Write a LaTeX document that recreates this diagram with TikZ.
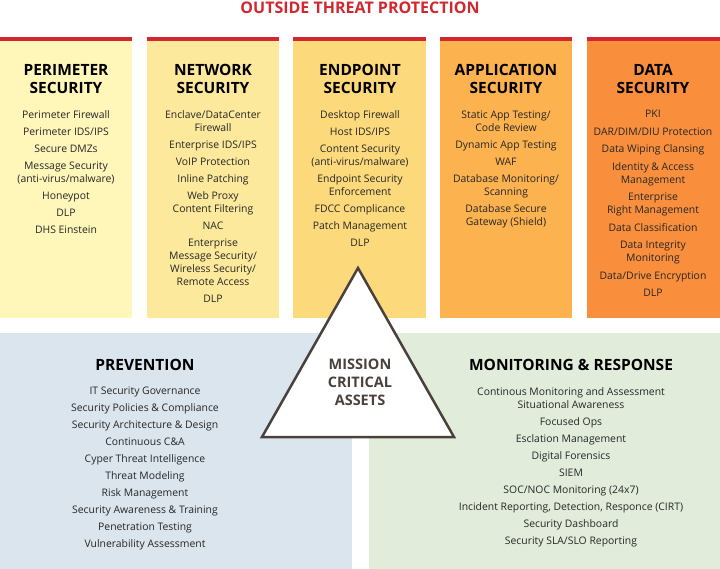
\documentclass[tikz,border=0pt]{standalone}
\usepackage{fontspec}
\setmainfont{Open Sans}
\usetikzlibrary{positioning,calc}

\definecolor{threatred}{HTML}{D0282E}
\definecolor{colA}{HTML}{FFF7BA}
\definecolor{colB}{HTML}{FDE99B}
\definecolor{colC}{HTML}{FCD97B}
\definecolor{colD}{HTML}{FBB24F}
\definecolor{colE}{HTML}{F98F3D}
\definecolor{prevblue}{HTML}{DAE5EE}
\definecolor{monigreen}{HTML}{E1EDDA}
\definecolor{trigray}{HTML}{4A413C}

\tikzset{
	head/.style={font=\fontsize{15.5}{18}\selectfont\bfseries, align=center, text=black},
	items/.style={font=\fontsize{10.4}{13}\selectfont, align=center, anchor=north, text=black!85},
}

\begin{document}
\begin{tikzpicture}[x=1pt,y=-1pt]

		\useasboundingbox (0,0) rectangle (720,569);
		
		% title
		\node [text=threatred, font=\fontsize{16}{18}\selectfont\bfseries] (title) at (360,8) {OUTSIDE THREAT PROTECTION};
		
		% column boxes
		\fill [colA] (0,40) rectangle (132,318);
		\fill [colB] (147,40) rectangle (279,318);
		\fill [colC] (293,40) rectangle (426,318);
		\fill [colD] (440,40) rectangle (572,318);
		\fill [colE] (587,40) rectangle (720,318);
		\foreach \xa/\xb in {0/132,147/279,293/426,440/572,587/720}
			\fill [threatred] (\xa,37) rectangle (\xb,41);
		
		% bottom panels
		\fill [prevblue] (0,333) rectangle (352,569);
		\fill [monigreen] (369,333) rectangle (720,569);
		
		\node [head] (perim) at (66,79) {PERIMETER\\SECURITY};
		\node [head] (netw) at (213,79) {NETWORK\\SECURITY};
		\node [head] (endp) at (360,79) {ENDPOINT\\SECURITY};
		\node [head] (appl) at (506,79) {APPLICATION\\SECURITY};
		\node [head] (data) at (653,79) {DATA\\SECURITY};
		
		\node [items] (perimitems) at (66,107) {Perimeter Firewall\\[4pt] Perimeter IDS/IPS\\[4pt] Secure DMZs\\[4pt] Message Security\\(anti-virus/malware)\\[4pt] Honeypot\\[4pt] DLP\\[4pt] DHS Einstein};
		\node [items] (netwitems) at (213,107) {Enclave/DataCenter\\Firewall\\[4pt] Enterprise IDS/IPS\\[4pt] VoIP Protection\\[4pt] Inline Patching\\[4pt] Web Proxy\\Content Filtering\\[4pt] NAC\\[4pt] Enterprise\\Message Security/\\Wireless Security/\\Remote Access\\[4pt] DLP};
		\node [items] (endpitems) at (360,107) {Desktop Firewall\\[4pt] Host IDS/IPS\\[4pt] Content Security\\(anti-virus/malware)\\[4pt] Endpoint Security\\Enforcement\\[4pt] FDCC Complicance\\[4pt] Patch Management\\[4pt] DLP};
		\node [items] (applitems) at (506,107) {Static App Testing/\\Code Review\\[4pt] Dynamic App Testing\\[4pt] WAF\\[4pt] Database Monitoring/\\Scanning\\[4pt] Database Secure\\Gateway (Shield)};
		\node [items] (dataitems) at (653,107) {PKI\\[4.5pt] DAR/DIM/DIU Protection\\[4.5pt] Data Wiping Clansing\\[4.5pt] Identity \& Access\\Management\\[4.5pt] Enterprise\\Right Management\\[4.5pt] Data Classification\\[4.5pt] Data Integrity\\Monitoring\\[4.5pt] Data/Drive Encryption\\[4.5pt] DLP};
		
		% triangle
		\draw [trigray, fill=white, line width=2.5pt, line join=miter] (358,268) -- (454,437) -- (262,437) -- cycle;
		\node [font=\fontsize{14.5}{18}\selectfont\bfseries, text=trigray, align=center] (mission) at (360,382) {MISSION\\CRITICAL\\ASSETS};
		
		\node [head] (prev) at (145,365) {PREVENTION};
		\node [head] (moni) at (571,365) {MONITORING \& RESPONSE};
		
		\node [items] (previtems) at (145,383) {IT Security Governance\\[4pt] Security Policies \& Compliance\\[4pt] Security Architecture \& Design\\[4pt] Continuous C\&A\\[4pt] Cyper Threat Intelligence\\[4pt] Threat Modeling\\[4pt] Risk Management\\[4pt] Security Awareness \& Training\\[4pt] Penetration Testing\\[4pt] Vulnerability Assessment};
		\node [items] (moniitems) at (571,384) {Continous Monitoring and Assessment\\Situational Awareness\\[4pt] Focused Ops\\[4pt] Esclation Management\\[4pt] Digital Forensics\\[4pt] SIEM\\[4pt] SOC/NOC Monitoring (24x7)\\[4pt] Incident Reporting, Detection, Responce (CIRT)\\[4pt] Security Dashboard\\[4pt] Security SLA/SLO Reporting};
\end{tikzpicture}
\end{document}
